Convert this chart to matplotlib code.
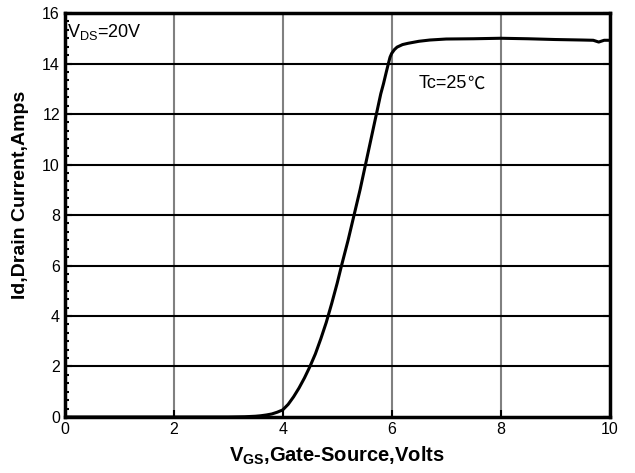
import matplotlib
matplotlib.use("Agg")
import matplotlib.pyplot as plt
from matplotlib.ticker import MultipleLocator

vgs = [0, 3.0, 3.3, 3.5, 3.6, 3.7, 3.8, 3.9, 4.0, 4.1, 4.2, 4.3, 4.4, 4.5, 4.6, 4.7, 4.8,
       4.9, 5.0, 5.08, 5.2, 5.31, 5.42, 5.52, 5.62, 5.72, 5.8, 5.85, 5.9, 5.94, 5.97, 6.0,
       6.05, 6.1, 6.2, 6.3, 6.5, 6.7, 7.0, 7.5, 8.0, 8.5, 9.0, 9.5, 9.7, 9.8, 9.9, 10]
id_amps = [0, 0, 0.01, 0.03, 0.05, 0.08, 0.12, 0.19, 0.28, 0.5, 0.8, 1.15, 1.55, 2.0, 2.5,
           3.1, 3.75, 4.5, 5.3, 6.0, 7.0, 8.0, 9.0, 10.0, 11.0, 12.0, 12.8, 13.2, 13.65, 14.0,
           14.25, 14.4, 14.55, 14.65, 14.75, 14.8, 14.88, 14.93, 14.97, 14.98, 15.0, 14.98,
           14.95, 14.93, 14.92, 14.85, 14.92, 14.92]
xticks = [0, 2, 4, 6, 8, 10]
yticks = [0, 2, 4, 6, 8, 10, 12, 14, 16]

fam = ['Liberation Sans', 'Noto Sans CJK SC', 'DejaVu Sans']
plt.rcParams['font.family'] = fam

fig = plt.figure(figsize=(6.35, 4.73), dpi=100)
ax = fig.add_axes([0.102, 0.1184, 0.858, 0.8541])

for x in xticks[1:-1]:
    ax.axvline(x, color='#808080', lw=1.5, zorder=1)
for y in yticks[1:-1]:
    ax.axhline(y, color='black', lw=1.5, zorder=1)

ax.plot(vgs, id_amps, color='black', lw=2.2, zorder=3)

ax.set_xlim(0, 10)
ax.set_ylim(0, 16)
ax.set_xticks(xticks)
ax.set_yticks(yticks)
ax.yaxis.set_minor_locator(MultipleLocator(2 / 6))
ax.tick_params(axis='both', which='major', direction='in', length=5, width=1.5,
               labelsize=11.5, top=False, right=True)
ax.tick_params(axis='y', which='minor', direction='in', length=3, width=1.5, left=True, right=False)
for s in ax.spines.values():
    s.set_linewidth(2.5)

ax.set_xlabel(r'V$_{\mathregular{GS}}$,Gate-Source,Volts', fontsize=14.5, fontweight='bold')
ax.set_ylabel('Id,Drain Current,Amps', fontsize=14, fontweight='bold')
ax.xaxis.set_label_coords(0.5, -0.068)
ax.yaxis.set_label_coords(-0.066, 0.55)

ax.text(0.05, 15.25, r'V$_{\mathregular{DS}}$=20V', fontsize=13, va='center', ha='left')
t1 = ax.text(6.5, 13.2, 'Tc=25', fontsize=13, va='center', ha='left',
             family=['Liberation Sans'])
fig.canvas.draw()
bb = t1.get_window_extent(renderer=fig.canvas.get_renderer())
inv = ax.transData.inverted()
x_end = inv.transform((bb.x1, bb.y0))[0]
ax.text(x_end, 13.2, '℃', fontsize=12.5, va='center', ha='left',
        family=['Noto Sans CJK SC'])

fig.savefig('out.png', dpi=100)
